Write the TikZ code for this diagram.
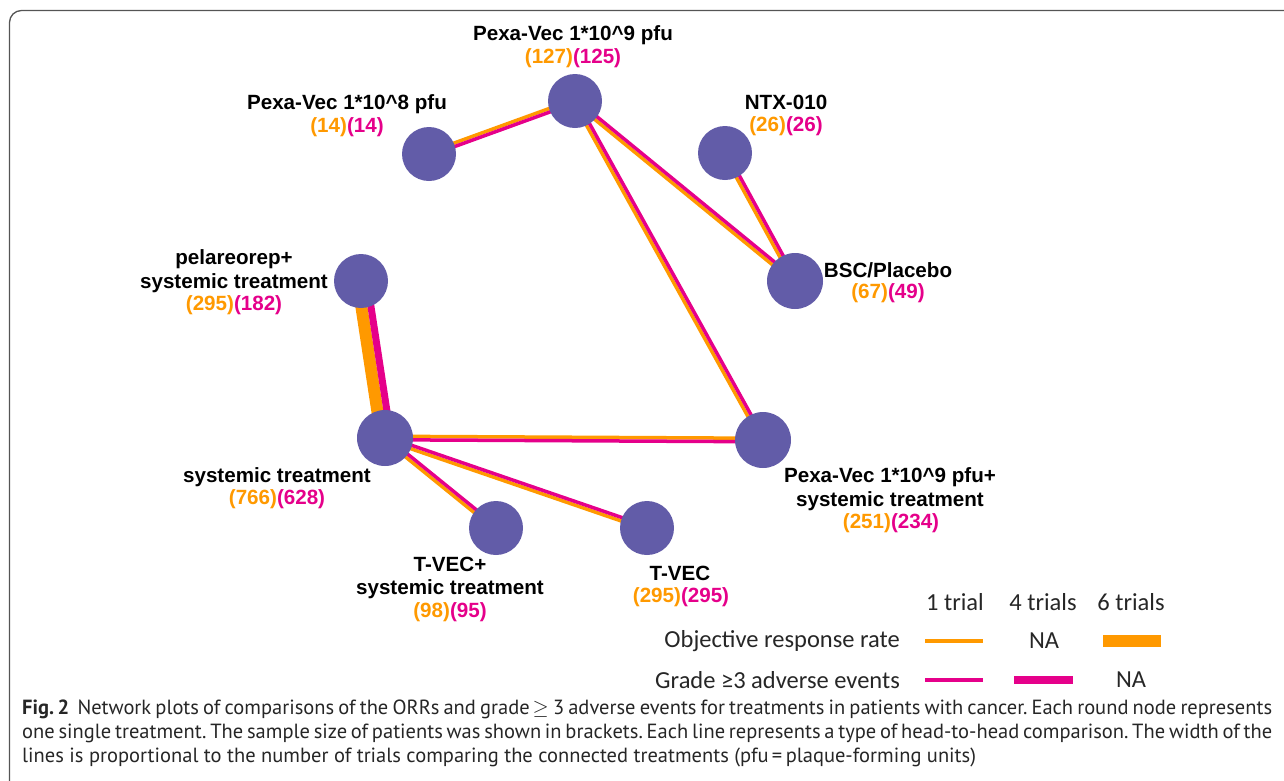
\documentclass[tikz,border=0pt]{standalone}
\usepackage{fontspec}
\setmainfont{PT Sans}
\newfontfamily\legfont{Carlito}
\newfontfamily\labfont{Liberation Sans}
\usetikzlibrary{calc,backgrounds}
\definecolor{nodefill}{HTML}{625CA8}
\definecolor{orng}{HTML}{FF9900}
\definecolor{pnk}{HTML}{E5008A}
\definecolor{framegray}{HTML}{555555}
% #1 a, #2 b, #3 orange width, #4 pink width, #5 = +1 pink on left of a->b, -1 on right
\newcommand\edgepair[5]{%
  \draw[orng,line width=#3pt,line cap=butt]
    ($(#1)!{(-1)*(#5)*(#4)/2*1pt}!90:(#2)$) -- ($(#2)!{(-1)*(#5)*(#4)/2*1pt}!-90:(#1)$);
  \draw[pnk,line width=#4pt,line cap=butt]
    ($(#1)!{(#5)*(#3)/2*1pt}!90:(#2)$) -- ($(#2)!{(#5)*(#3)/2*1pt}!-90:(#1)$);
}
\frenchspacing
\begin{document}
\begin{tikzpicture}[x=1pt,y=-1pt,
  tnode/.style={circle,fill=nodefill,minimum size=54pt,inner sep=0pt},
  lab/.style={font=\labfont\fontsize{20.6}{23.5}\selectfont\bfseries,align=center,inner sep=0pt},
  legtxt/.style={font=\legfont\fontsize{24.5}{26}\selectfont,inner sep=0pt,text=black!85},
  legline/.style={line width=#1pt,line cap=butt},
  captxt/.style={font=\fontsize{20.5}{24}\selectfont,inner sep=0pt,anchor=base west,text=black!85}]
\useasboundingbox (0,0) rectangle (1284,780);
\begin{scope}
  \clip (0,0) rectangle (1284,780);
  \draw[framegray,line width=1.3pt,rounded corners=12pt] (9.5,10.5) rectangle (1320,800);
\end{scope}

% nodes
\node[tnode] (p8)  at (429,154) {};
\node[tnode] (p9)  at (575,101) {};
\node[tnode] (ntx) at (725,153) {};
\node[tnode,minimum size=56pt] (bsc) at (795,281) {};
\node[tnode] (pel) at (361,281) {};
\node[tnode,minimum size=56pt] (sys) at (385,438) {};
\node[tnode,minimum size=56pt] (pxs) at (763,440) {};
\node[tnode] (tvs) at (496,528) {};
\node[tnode] (tv)  at (647,528) {};

% edges
\begin{scope}[on background layer]
  \edgepair{p8}{p9}{3.5}{3.5}{-1}
  \edgepair{p9}{bsc}{3.5}{3.5}{1}
  \edgepair{p9}{pxs}{3.5}{3.5}{1}
  \edgepair{ntx}{bsc}{3.5}{3.5}{1}
  \edgepair{pel}{sys}{12}{7}{1}
  \edgepair{sys}{pxs}{3.5}{3.5}{-1}
  \edgepair{sys}{tv}{3.5}{3.5}{1}
  \edgepair{sys}{tvs}{3.5}{3.5}{1}
\end{scope}

% labels
\node[lab] (lp9) at (573,35) {Pexa-Vec 1*10\^{}9 pfu};
\node[lab] (np9) at (573,58) {{\color{orng}(127)}{\color{pnk}(125)}};
\node[lab] (lp8) at (347,104) {Pexa-Vec 1*10\^{}8 pfu};
\node[lab] (np8) at (347,127) {{\color{orng}(14)}{\color{pnk}(14)}};
\node[lab] (lntx) at (786,102) {NTX-010};
\node[lab] (nntx) at (786,126) {{\color{orng}(26)}{\color{pnk}(26)}};
\node[lab] (lbsc) at (888,270) {BSC/Placebo};
\node[lab] (nbsc) at (888,293) {{\color{orng}(67)}{\color{pnk}(49)}};
\node[lab] (lpel) at (234,271) {pelareorep+\\systemic treatment};
\node[lab] (npel) at (234,305) {{\color{orng}(295)}{\color{pnk}(182)}};
\node[lab] (lsys) at (277,477) {systemic treatment};
\node[lab] (nsys) at (277,499) {{\color{orng}(766)}{\color{pnk}(628)}};
\node[lab] (lpxs) at (890,489) {Pexa-Vec 1*10\^{}9 pfu+\\systemic treatment};
\node[lab] (npxs) at (891,523) {{\color{orng}(251)}{\color{pnk}(234)}};
\node[lab] (ltvs) at (450,578) {T-VEC+\\systemic treatment};
\node[lab] (ntvs) at (450,612) {{\color{orng}(98)}{\color{pnk}(95)}};
\node[lab] (ltv) at (680,573) {T-VEC};
\node[lab] (ntv) at (681,597) {{\color{orng}(295)}{\color{pnk}(295)}};

% legend
\node[legtxt] (h1) at (955,602) {1 trial};
\node[legtxt] (h4) at (1043,602) {4 trials};
\node[legtxt] (h6) at (1131,602) {6 trials};
\node[legtxt,anchor=east] (orr) at (900,641) {Objective response rate};
\node[legtxt,anchor=east] (ae) at (900,680) {Grade ≥3 adverse events};
\node[legtxt] (na1) at (1044,641) {NA};
\node[legtxt] (na2) at (1131,680) {NA};
\coordinate (o1a) at (925,641); \coordinate (o1b) at (983,641);
\coordinate (o6a) at (1103,641); \coordinate (o6b) at (1161,641);
\coordinate (p1a) at (925,680); \coordinate (p1b) at (983,680);
\coordinate (p4a) at (1014,680); \coordinate (p4b) at (1073,680);
\draw[orng,legline=4] (o1a) -- (o1b);
\draw[orng,legline=12] (o6a) -- (o6b);
\draw[pnk,legline=4] (p1a) -- (p1b);
\draw[pnk,legline=8] (p4a) -- (p4b);

% caption
\node[captxt] (c1) at (22,714) {\makebox[1250pt][s]{\textbf{Fig.\,2}\ \ Network plots of comparisons of the ORRs and grade\hspace{3pt}$\geq$ 3 adverse events for treatments in patients with cancer. Each round node represents}};
\node[captxt] (c2) at (22,738) {\makebox[1250pt][s]{one single treatment. The sample size of patients was shown in brackets. Each line represents a type of head-to-head comparison. The width of the}};
\node[captxt] (c3) at (22,762) {lines is proportional to the number of trials comparing the connected treatments (pfu\,=\,plaque-forming units)};
\end{tikzpicture}
\end{document}
